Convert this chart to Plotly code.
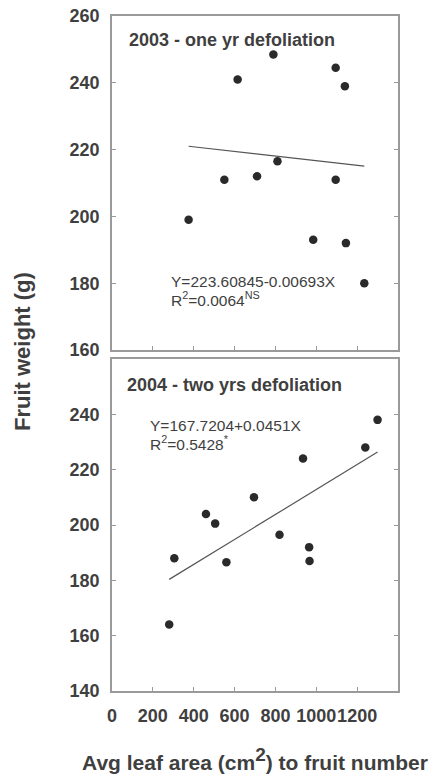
import plotly.graph_objects as go

# ---- data ----
x_2003 = [375, 550, 615, 710, 790, 810, 985, 1095, 1095, 1140, 1145, 1235]
y_2003 = [199, 211, 241, 212, 248.5, 216.5, 193, 244.5, 211, 239, 192, 180]
x_2004 = [280, 305, 460, 505, 560, 695, 820, 935, 965, 967, 1240, 1300]
y_2004 = [164, 188, 204, 200.5, 186.5, 210, 196.5, 224, 192, 187, 228, 238]

fit_2003 = (223.60845, -0.00693)
fit_2004 = (167.7204, 0.0451)

title_2003 = "2003 - one yr defoliation"
title_2004 = "2004 - two yrs defoliation"
eq_2003 = ["Y=223.60845-0.00693X", "R<sup>2</sup>=0.0064<sup>NS</sup>"]
eq_2004 = ["Y=167.7204+0.0451X", "R<sup>2</sup>=0.5428<sup>*</sup>"]

x_ticks_top = [200, 400, 600, 800, 1000, 1200]
x_ticks_bottom = [0, 200, 400, 600, 800, 1000, 1200]
y_ticks_top = [160, 180, 200, 220, 240, 260]
y_ticks_bottom = [140, 160, 180, 200, 220, 240]

FONT = "Liberation Sans, Arial, sans-serif"
AX = "#9a9a9a"
TXT = "#3f3f3f"
MARK = "#2a2a2a"

def fit_line(xs, coef):
    lo, hi = min(xs), max(xs)
    return [lo, hi], [coef[0] + coef[1] * lo, coef[0] + coef[1] * hi]

fig = go.Figure()

fx, fy = fit_line(x_2003, fit_2003)
fig.add_trace(go.Scatter(x=fx, y=fy, mode="lines", line=dict(color="#555555", width=1.2),
                         xaxis="x2", yaxis="y2", showlegend=False, hoverinfo="skip"))
fig.add_trace(go.Scatter(x=x_2003, y=y_2003, mode="markers",
                         marker=dict(color=MARK, size=8.5), xaxis="x2", yaxis="y2", showlegend=False))

fx, fy = fit_line(x_2004, fit_2004)
fig.add_trace(go.Scatter(x=fx, y=fy, mode="lines", line=dict(color="#555555", width=1.2),
                         xaxis="x", yaxis="y", showlegend=False, hoverinfo="skip"))
fig.add_trace(go.Scatter(x=x_2004, y=y_2004, mode="markers",
                         marker=dict(color=MARK, size=8.5), xaxis="x", yaxis="y", showlegend=False))

common = dict(showline=True, linecolor=AX, linewidth=1.5, ticks="inside", ticklen=4,
              tickcolor=AX, tickwidth=1.2, showgrid=False, zeroline=False, automargin=False,
              tickfont=dict(family=FONT, size=18, color=TXT, weight="bold"))

plot_h = 774 - 16 - 83
top_dom = [1 - 334 / plot_h, 1]
bot_dom = [0, 332 / plot_h]

fig.update_layout(
    width=432, height=774,
    margin=dict(l=112, r=34, t=16, b=83, autoexpand=False),
    paper_bgcolor="white", plot_bgcolor="white",
    font=dict(family=FONT, color=TXT),
    xaxis=dict(range=[0, 1400], tickvals=x_ticks_bottom, anchor="y", mirror=True,
               tickangle=0, ticklabelstandoff=8, **common),
    yaxis=dict(range=[140, 260], tickvals=y_ticks_bottom, domain=bot_dom, anchor="x",
               mirror="ticks", ticklabelstandoff=7, **common),
    xaxis2=dict(range=[0, 1400], tickvals=x_ticks_top, anchor="y2", mirror=True,
                showticklabels=False, **common),
    yaxis2=dict(range=[160, 260], tickvals=y_ticks_top, domain=top_dom, anchor="x2",
                mirror="ticks", ticklabelstandoff=7, **common),
)

ann = []
ann.append(dict(text=title_2003, xref="x2", yref="y2", x=75, y=252.8, xanchor="left",
                yanchor="middle", showarrow=False,
                font=dict(family=FONT, size=18, color=TXT, weight="bold")))
ann.append(dict(text=title_2004, xref="x", yref="y", x=66, y=250.6, xanchor="left",
                yanchor="middle", showarrow=False,
                font=dict(family=FONT, size=18, color=TXT, weight="bold")))
for yy, t in zip([180.5, 175.3], eq_2003):
    ann.append(dict(text=t, xref="x2", yref="y2", x=280, y=yy, xanchor="left",
                    yanchor="middle", showarrow=False,
                    font=dict(family=FONT, size=15.5, color=TXT)))
for yy, t in zip([235.8, 229.6], eq_2004):
    ann.append(dict(text=t, xref="x", yref="y", x=174, y=yy, xanchor="left",
                    yanchor="middle", showarrow=False,
                    font=dict(family=FONT, size=15.5, color=TXT)))
ann.append(dict(text="Fruit weight (g)", xref="paper", yref="paper",
                x=(22 - 112) / 286, y=(691 - 352) / plot_h, textangle=-90,
                xanchor="center", yanchor="middle", showarrow=False,
                font=dict(family=FONT, size=22, color=TXT, weight="bold")))
ann.append(dict(text="Avg leaf area (cm<sup><span style='font-size:19px'>2</span></sup>) to fruit number",
                xref="paper", yref="paper", x=(255 - 112) / 286, y=(691 - 759) / plot_h,
                xanchor="center", yanchor="middle", showarrow=False,
                font=dict(family=FONT, size=21, color=TXT, weight="bold")))
fig.update_layout(annotations=ann)

fig.write_html("out.html", config={"displayModeBar": False},
               post_script="document.body.style.margin='0';document.body.style.padding='0';")
